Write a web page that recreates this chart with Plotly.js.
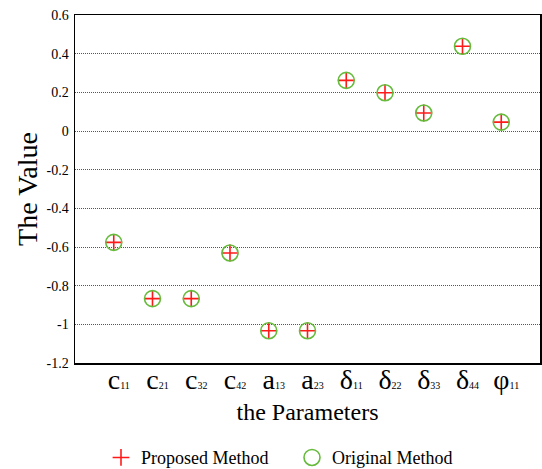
<!DOCTYPE html>
<html>
<head>
<meta charset="utf-8">
<script src="https://cdn.plot.ly/plotly-3.0.1.min.js"></script>
<style>html,body{margin:0;padding:0;background:#fff;}#chart{width:542px;height:469px;}</style>
</head>
<body>
<div id="chart"></div>
<script>
const paramBase = ["c", "c", "c", "c", "a", "a", "δ", "δ", "δ", "δ", "φ"];
const paramSub = ["11", "21", "32", "42", "13", "23", "11", "22", "33", "44", "11"];
const proposedValues = [-0.576, -0.867, -0.867, -0.631, -1.033, -1.033, 0.262, 0.198, 0.093, 0.438, 0.046];
const originalValues = [-0.576, -0.867, -0.867, -0.631, -1.033, -1.033, 0.262, 0.198, 0.093, 0.438, 0.046];
const yTickVals = [-1.2, -1, -0.8, -0.6, -0.4, -0.2, 0, 0.2, 0.4, 0.6];
const yTickText = ["-1.2", "-1", "-0.8", "-0.6", "-0.4", "-0.2", "0", "0.2", "0.4", "0.6"];

const idx = paramBase.map((_, i) => i);
const tickText = paramBase.map((b, i) =>
  '<span style="font-size:10px">&nbsp;&nbsp;&nbsp;&nbsp;</span>' + b +
  '<span style="font-size:10px">' + paramSub[i] + '</span>');

const serif = "Liberation Serif";

const traces = [
  {
    x: idx, y: proposedValues, type: 'scatter', mode: 'markers', name: 'Proposed Method',
    marker: {symbol: 'cross-thin-open', size: 12, color: '#ff1a1a', line: {color: '#ff1a1a', width: 1.6}}
  },
  {
    x: idx, y: originalValues, type: 'scatter', mode: 'markers', name: 'Original Method',
    marker: {symbol: 'circle-open', size: 16, color: '#66bb3c', line: {color: '#66bb3c', width: 1.6}}
  }
];

const layout = {
  width: 542, height: 469,
  margin: {l: 75, r: 1.5, t: 15, b: 105.5, autoexpand: false},
  paper_bgcolor: '#fff', plot_bgcolor: '#fff',
  font: {family: serif, color: '#000'},
  showlegend: true,
  legend: {
    orientation: 'h', xref: 'container', yref: 'container',
    x: 101 / 542, xanchor: 'left', y: 0.024, yanchor: 'middle',
    font: {family: serif, size: 18, color: '#000'},
    entrywidth: 146, entrywidthmode: 'pixels'
  },
  xaxis: {
    range: [-1, 11], tickmode: 'array', tickvals: idx, ticktext: tickText,
    tickfont: {family: serif, size: 28, color: '#000'},
    showgrid: false, zeroline: false, showline: true, mirror: true, automargin: false,
    linecolor: '#000', linewidth: 1.5, ticks: '', ticklen: 0, ticklabelstandoff: -9,
    title: {text: 'the Parameters', font: {family: serif, size: 24, color: '#000'}, standoff: 9}
  },
  yaxis: {
    range: [-1.2, 0.6], tickmode: 'array', tickvals: yTickVals, ticktext: yTickText,
    tickfont: {family: serif, size: 14, color: '#000'},
    showgrid: true, gridcolor: '#555', griddash: '1px,1px', gridwidth: 1,
    zeroline: false, showline: true, mirror: true, automargin: false,
    linecolor: '#000', linewidth: 1.5, ticks: '', ticklabelstandoff: 2,
    title: {text: 'The Value', font: {family: serif, size: 28, color: '#000'}, standoff: 0}
  }
};

Plotly.newPlot('chart', traces, layout, {displayModeBar: false, staticPlot: true});
</script>
</body>
</html>
